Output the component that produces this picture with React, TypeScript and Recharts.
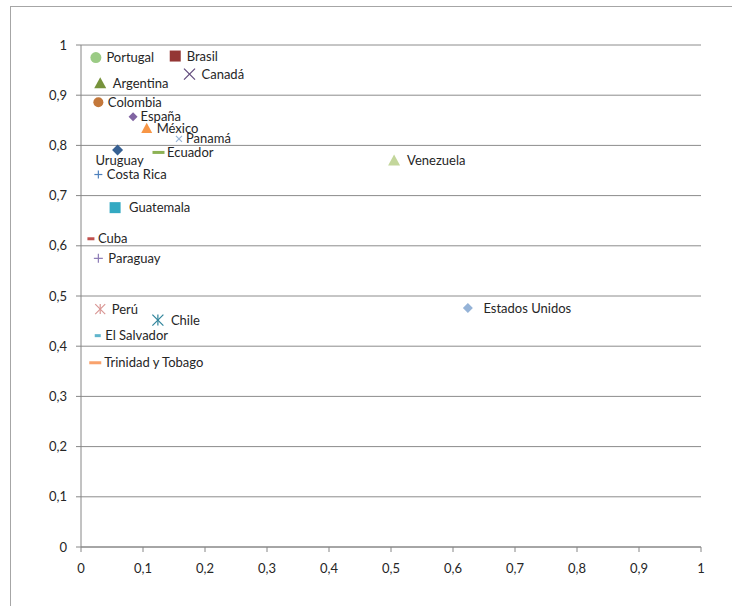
import { ScatterChart, Scatter, XAxis, YAxis, CartesianGrid } from 'recharts'

// country names and their (x, y) values
const countries = [
  'Portugal', 'Brasil', 'Canadá', 'Argentina', 'Colombia', 'España', 'México', 'Panamá',
  'Uruguay', 'Ecuador', 'Venezuela', 'Costa Rica', 'Guatemala', 'Cuba', 'Paraguay', 'Perú',
  'Chile', 'Estados Unidos', 'El Salvador', 'Trinidad y Tobago',
]
const xValues = [
  0.024, 0.152, 0.175, 0.031, 0.028, 0.084, 0.106, 0.158, 0.059, 0.125,
  0.505, 0.028, 0.055, 0.016, 0.028, 0.031, 0.124, 0.624, 0.027, 0.023,
]
const yValues = [
  0.975, 0.978, 0.942, 0.924, 0.886, 0.857, 0.834, 0.813, 0.791, 0.786,
  0.770, 0.742, 0.676, 0.614, 0.575, 0.474, 0.452, 0.476, 0.421, 0.367,
]
const xTicks = [0, 0.1, 0.2, 0.3, 0.4, 0.5, 0.6, 0.7, 0.8, 0.9, 1]
const yTicks = [0, 0.1, 0.2, 0.3, 0.4, 0.5, 0.6, 0.7, 0.8, 0.9, 1]

type Kind = 'circle' | 'square' | 'triangle' | 'diamond' | 'x' | 'plus' | 'dash' | 'star'

interface MarkerStyle {
  kind: Kind
  color: string
  size: number
  dx: number
  below?: boolean
}

// one marker style per country, same order as above
const markerStyles: MarkerStyle[] = [
  { kind: 'circle', color: '#9bcb85', size: 5.5, dx: 10.5 },
  { kind: 'square', color: '#943634', size: 5.5, dx: 11.5 },
  { kind: 'x', color: '#604a7b', size: 5.5, dx: 12 },
  { kind: 'triangle', color: '#77933c', size: 6, dx: 12.5 },
  { kind: 'circle', color: '#c3773a', size: 5, dx: 9.5 },
  { kind: 'diamond', color: '#8064a2', size: 4.5, dx: 7.5 },
  { kind: 'triangle', color: '#f79646', size: 5.5, dx: 10 },
  { kind: 'x', color: '#95b3d7', size: 3, dx: 7 },
  { kind: 'diamond', color: '#376092', size: 5.5, dx: 2, below: true },
  { kind: 'dash', color: '#8db255', size: 6, dx: 8.5 },
  { kind: 'triangle', color: '#c3d69b', size: 6, dx: 13 },
  { kind: 'plus', color: '#4f81bd', size: 4, dx: 8.5 },
  { kind: 'square', color: '#33a9c2', size: 5.5, dx: 14 },
  { kind: 'dash', color: '#c0504d', size: 3.5, dx: 7 },
  { kind: 'plus', color: '#8c7ab5', size: 4.5, dx: 10 },
  { kind: 'star', color: '#d99694', size: 5, dx: 11.5 },
  { kind: 'star', color: '#31859c', size: 5.5, dx: 13 },
  { kind: 'diamond', color: '#95b3d7', size: 5, dx: 15.5 },
  { kind: 'dash', color: '#60b5cc', size: 3, dx: 7.5 },
  { kind: 'dash', color: '#f9a26c', size: 6, dx: 9 },
]

const series = countries.map((name, i) => ({
  name,
  style: markerStyles[i],
  data: [{ x: xValues[i], y: yValues[i], name }],
}))

const FONT = 'Lato, "Open Sans", sans-serif'

const fmt = (v: number) => (Number.isInteger(v) ? String(v) : v.toFixed(1).replace('.', ','))

function Marker(props: any) {
  const { cx, cy, style, name } = props
  const s: MarkerStyle = style
  const r = s.size
  const c = s.color
  let mark: any = null
  if (s.kind === 'circle') mark = <circle cx={cx} cy={cy} r={r} fill={c} />
  else if (s.kind === 'square') mark = <rect x={cx - r} y={cy - r} width={r * 2} height={r * 2} fill={c} />
  else if (s.kind === 'triangle')
    mark = <polygon points={`${cx},${cy - r} ${cx - r},${cy + r * 0.85} ${cx + r},${cy + r * 0.85}`} fill={c} />
  else if (s.kind === 'diamond')
    mark = <polygon points={`${cx},${cy - r} ${cx + r},${cy} ${cx},${cy + r} ${cx - r},${cy}`} fill={c} />
  else if (s.kind === 'x')
    mark = (
      <g stroke={c} strokeWidth={1.2}>
        <line x1={cx - r} y1={cy - r} x2={cx + r} y2={cy + r} />
        <line x1={cx - r} y1={cy + r} x2={cx + r} y2={cy - r} />
      </g>
    )
  else if (s.kind === 'plus')
    mark = (
      <g stroke={c} strokeWidth={1.2}>
        <line x1={cx - r} y1={cy} x2={cx + r} y2={cy} />
        <line x1={cx} y1={cy - r} x2={cx} y2={cy + r} />
      </g>
    )
  else if (s.kind === 'star')
    mark = (
      <g stroke={c} strokeWidth={1.2}>
        <line x1={cx - r} y1={cy - r} x2={cx + r} y2={cy + r} />
        <line x1={cx - r} y1={cy + r} x2={cx + r} y2={cy - r} />
        <line x1={cx} y1={cy - r} x2={cx} y2={cy + r} />
      </g>
    )
  else mark = <rect x={cx - r} y={cy - 1.5} width={r * 2} height={3} fill={c} />

  return (
    <g>
      {mark}
      {s.below ? (
        <text x={cx + s.dx} y={cy + 15} textAnchor="middle" fontSize={13} fontFamily={FONT} fill="#262626">
          {name}
        </text>
      ) : (
        <text x={cx + s.dx} y={cy} dy="0.35em" textAnchor="start" fontSize={13} fontFamily={FONT} fill="#262626">
          {name}
        </text>
      )}
    </g>
  )
}

export default function App() {
  return (
    <div style={{ position: 'absolute', left: 0, top: 0, width: 732, height: 606, background: '#fff', overflow: 'hidden' }}>
      <div
        style={{
          position: 'absolute',
          left: 10,
          top: 6,
          width: 760,
          height: 640,
          border: '1px solid #a6a6a6',
        }}
      />
      <div style={{ position: 'absolute', left: 0, top: 0 }}>
        <ScatterChart width={732} height={606} margin={{ top: 45, right: 31, bottom: 29, left: 0 }}>
          <CartesianGrid vertical={false} stroke="#8c8c8c" />
          <XAxis
            type="number"
            dataKey="x"
            domain={[0, 1]}
            ticks={xTicks}
            tickFormatter={fmt}
            height={30}
            tickSize={5}
            tickMargin={12}
            stroke="#868686"
            tick={{ fill: '#262626', fontSize: 13, fontFamily: FONT }}
            interval={0}
          />
          <YAxis
            type="number"
            dataKey="y"
            domain={[0, 1]}
            ticks={yTicks}
            tickFormatter={fmt}
            width={81}
            tickSize={5}
            tickMargin={9}
            stroke="#868686"
            tick={{ fill: '#262626', fontSize: 13, fontFamily: FONT }}
            interval={0}
          />
          {series.map((s) => (
            <Scatter
              key={s.name}
              name={s.name}
              data={s.data}
              isAnimationActive={false}
              shape={(p: any) => <Marker {...p} style={s.style} name={s.name} />}
            />
          ))}
        </ScatterChart>
      </div>
    </div>
  )
}
